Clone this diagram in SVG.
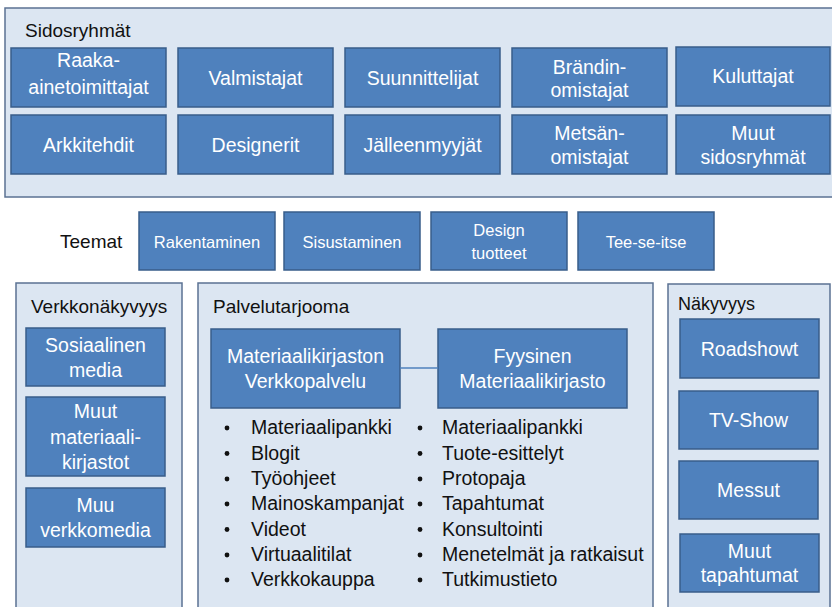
<svg xmlns="http://www.w3.org/2000/svg" width="832" height="607" viewBox="0 0 832 607">
<style>
  .panel { fill: #dce6f2; stroke: #5b7293; stroke-width: 1.5; }
  .box { fill: #4f81bd; stroke: #385d8a; stroke-width: 1.5; }
  .bt { font-family: "Liberation Sans", Arial, sans-serif; font-size: 19.5px; fill: #ffffff; text-anchor: middle; }
  .tt { font-family: "Liberation Sans", Arial, sans-serif; font-size: 16.5px; fill: #ffffff; text-anchor: middle; }
  .title { font-family: "Liberation Sans", Arial, sans-serif; font-size: 19px; fill: #111111; }
  .li { font-family: "Liberation Sans", Arial, sans-serif; font-size: 19.5px; fill: #111111; }
  .dot { fill: #111111; }
  .conn { stroke: #4f81bd; stroke-width: 1.5; fill: none; }
</style>
<rect x="0" y="0" width="832" height="607" fill="#ffffff"/>

<g id="sidosryhmat">
  <rect class="panel" x="5" y="8" width="840" height="189"/>
  <text class="title" x="25" y="37">Sidosryhmät</text>
</g>
<g id="raaka-ainetoimittajat"><rect class="box" x="11" y="48" width="155" height="59"/><text class="bt" x="88.5" y="67">Raaka-</text><text class="bt" x="88.5" y="94">ainetoimittajat</text></g>
<g id="valmistajat"><rect class="box" x="178" y="48" width="155" height="59"/><text class="bt" x="255.5" y="85">Valmistajat</text></g>
<g id="suunnittelijat"><rect class="box" x="345" y="48" width="155" height="59"/><text class="bt" x="422.5" y="85">Suunnittelijat</text></g>
<g id="brandinomistajat"><rect class="box" x="512" y="48" width="155" height="59"/><text class="bt" x="589.5" y="74">Brändin-</text><text class="bt" x="589.5" y="97">omistajat</text></g>
<g id="kuluttajat"><rect class="box" x="676" y="47" width="154" height="59"/><text class="bt" x="753" y="83">Kuluttajat</text></g>
<g id="arkkitehdit"><rect class="box" x="11" y="115" width="155" height="59"/><text class="bt" x="88.5" y="152">Arkkitehdit</text></g>
<g id="designerit"><rect class="box" x="178" y="115" width="155" height="59"/><text class="bt" x="255.5" y="152">Designerit</text></g>
<g id="jalleenmyyjat"><rect class="box" x="345" y="115" width="155" height="59"/><text class="bt" x="422.5" y="152">Jälleenmyyjät</text></g>
<g id="metsanomistajat"><rect class="box" x="512" y="115" width="155" height="59"/><text class="bt" x="589.5" y="140">Metsän-</text><text class="bt" x="589.5" y="164">omistajat</text></g>
<g id="muut-sidosryhmat"><rect class="box" x="676" y="115" width="154" height="59"/><text class="bt" x="753" y="140">Muut</text><text class="bt" x="753" y="164">sidosryhmät</text></g>

<g id="teemat"><text class="title" x="60" y="248">Teemat</text></g>
<g id="rakentaminen"><rect class="box" x="139" y="212" width="136" height="58"/><text class="tt" x="207" y="248">Rakentaminen</text></g>
<g id="sisustaminen"><rect class="box" x="284" y="212" width="136" height="58"/><text class="tt" x="352" y="248">Sisustaminen</text></g>
<g id="design-tuotteet"><rect class="box" x="431" y="212" width="136" height="58"/><text class="tt" x="499" y="236">Design</text><text class="tt" x="499" y="259">tuotteet</text></g>
<g id="tee-se-itse"><rect class="box" x="578" y="212" width="136" height="58"/><text class="tt" x="646" y="248">Tee-se-itse</text></g>

<g id="verkkonakyvyys">
  <rect class="panel" x="16" y="283" width="166" height="340"/>
  <text class="title" x="31" y="313">Verkkonäkyvyys</text>
</g>
<g id="sosiaalinen-media"><rect class="box" x="26" y="328" width="139" height="58"/><text class="bt" x="95.5" y="352">Sosiaalinen</text><text class="bt" x="95.5" y="377">media</text></g>
<g id="muut-materiaalikirjastot"><rect class="box" x="26" y="397" width="139" height="79"/><text class="bt" x="95.5" y="418">Muut</text><text class="bt" x="95.5" y="444">materiaali-</text><text class="bt" x="95.5" y="469">kirjastot</text></g>
<g id="muu-verkkomedia"><rect class="box" x="26" y="488" width="139" height="59"/><text class="bt" x="95.5" y="512">Muu</text><text class="bt" x="95.5" y="537">verkkomedia</text></g>

<g id="palvelutarjooma">
  <rect class="panel" x="198" y="283" width="455" height="340"/>
  <text class="title" x="213" y="313">Palvelutarjooma</text>
</g>
<g id="verkkopalvelu">
  <rect class="box" x="211" y="329" width="189" height="79"/>
  <text class="bt" x="305.5" y="363">Materiaalikirjaston</text>
  <text class="bt" x="305.5" y="388">Verkkopalvelu</text>
  <g class="li">
    <text x="251" y="434">Materiaalipankki</text>
    <text x="251" y="459.5">Blogit</text>
    <text x="251" y="485">Työohjeet</text>
    <text x="251" y="510">Mainoskampanjat</text>
    <text x="251" y="535.5">Videot</text>
    <text x="251" y="561">Virtuaalitilat</text>
    <text x="251" y="586">Verkkokauppa</text>
  </g>
  <g class="dot">
    <circle cx="227" cy="428" r="2.4"/><circle cx="227" cy="453.5" r="2.4"/><circle cx="227" cy="479" r="2.4"/><circle cx="227" cy="504" r="2.4"/><circle cx="227" cy="529.5" r="2.4"/><circle cx="227" cy="555" r="2.4"/><circle cx="227" cy="580" r="2.4"/>
  </g>
</g>
<g id="fyysinen-materiaalikirjasto">
  <rect class="box" x="438" y="329" width="189" height="79"/>
  <text class="bt" x="532.5" y="363">Fyysinen</text>
  <text class="bt" x="532.5" y="388">Materiaalikirjasto</text>
  <g class="li">
    <text x="442" y="434">Materiaalipankki</text>
    <text x="442" y="459.5">Tuote-esittelyt</text>
    <text x="442" y="485">Protopaja</text>
    <text x="442" y="510">Tapahtumat</text>
    <text x="442" y="535.5">Konsultointi</text>
    <text x="442" y="561">Menetelmät ja ratkaisut</text>
    <text x="442" y="586">Tutkimustieto</text>
  </g>
  <g class="dot">
    <circle cx="420" cy="428" r="2.4"/><circle cx="420" cy="453.5" r="2.4"/><circle cx="420" cy="479" r="2.4"/><circle cx="420" cy="504" r="2.4"/><circle cx="420" cy="529.5" r="2.4"/><circle cx="420" cy="555" r="2.4"/><circle cx="420" cy="580" r="2.4"/>
  </g>
</g>

<g id="nakyvyys">
  <rect class="panel" x="668" y="284" width="162" height="340"/>
  <text class="title" x="678" y="310" style="font-size:18px">Näkyvyys</text>
</g>
<g id="roadshowt"><rect class="box" x="680" y="319" width="139" height="59"/><text class="bt" x="749.5" y="356">Roadshowt</text></g>
<g id="tv-show"><rect class="box" x="679" y="391" width="139" height="58"/><text class="bt" x="748.5" y="427">TV-Show</text></g>
<g id="messut"><rect class="box" x="679" y="461" width="139" height="58"/><text class="bt" x="748.5" y="497">Messut</text></g>
<g id="muut-tapahtumat"><rect class="box" x="680" y="534" width="139" height="58"/><text class="bt" x="749.5" y="558">Muut</text><text class="bt" x="749.5" y="582">tapahtumat</text></g>

<g id="connectors">
  <line class="conn" x1="400" y1="368" x2="438" y2="368"/>
</g>
</svg>
